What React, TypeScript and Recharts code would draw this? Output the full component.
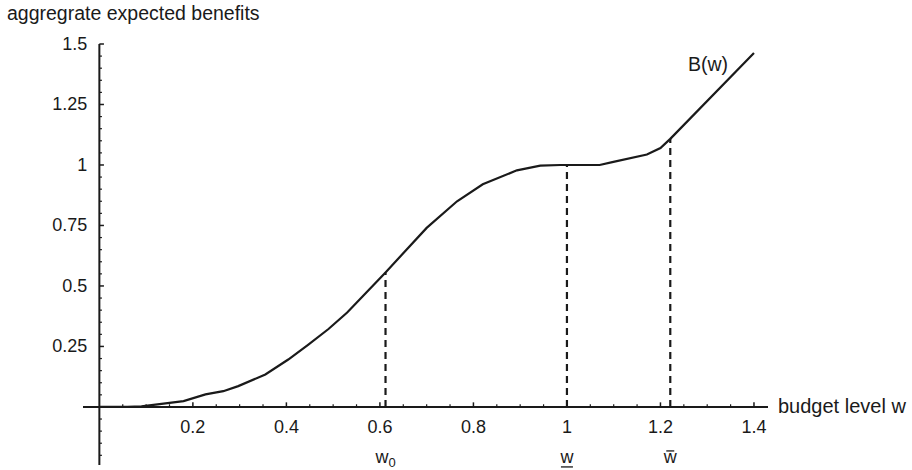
import React from 'react';
import { LineChart, Line, XAxis, YAxis, ReferenceLine, ReferenceDot } from 'recharts';

// budget level w and aggregate expected benefit B(w)
const BUDGET = [0, 0.06, 0.09, 0.18, 0.227, 0.265, 0.297, 0.355, 0.404, 0.447, 0.49, 0.53, 0.612, 0.7, 0.765, 0.82, 0.893, 0.943, 0.986, 1.0, 1.07, 1.097, 1.171, 1.2, 1.221, 1.4];
const BENEFIT = [0, 0, 0.002, 0.024, 0.052, 0.065, 0.086, 0.134, 0.196, 0.258, 0.322, 0.39, 0.556, 0.74, 0.85, 0.92, 0.978, 0.997, 1.0, 1.0, 1.0, 1.012, 1.043, 1.07, 1.108, 1.463];

// threshold budgets w0, w_, w¯ with the curve value at each
const MARK_W = [0.612, 1.0, 1.221];
const MARK_B = [0.556, 1.0, 1.108];

const X_TICKS = [0.2, 0.4, 0.6, 0.8, 1, 1.2, 1.4];
const X_TICK_LABELS = ['0.2', '0.4', '0.6', '0.8', '1', '1.2', '1.4'];
const Y_TICKS = [0.25, 0.5, 0.75, 1, 1.25, 1.5];
const Y_TICK_LABELS = ['0.25', '0.5', '0.75', '1', '1.25', '1.5'];

const X_DOMAIN: [number, number] = [-0.035, 1.43];
const Y_DOMAIN: [number, number] = [-0.24, 1.5];

const INK = '#1a1a1a';
const FONT = '"Liberation Sans", Arial, sans-serif';

const data = BUDGET.map((w, i) => ({ w, b: BENEFIT[i] }));

const isMajor = (v: number, majors: number[]) => majors.some((m) => Math.abs(m - v) < 1e-6);

const xMinor: number[] = [];
for (let k = 1; k * 0.05 <= 1.4 + 1e-9; k++) {
  const v = +(k * 0.05).toFixed(2);
  if (!isMajor(v, X_TICKS)) xMinor.push(v);
}
const yMinor: number[] = [];
for (let k = -4; k * 0.05 <= 1.45 + 1e-9; k++) {
  const v = +(k * 0.05).toFixed(2);
  if (v !== 0 && !isMajor(v, Y_TICKS)) yMinor.push(v);
}

const textStyle = { fontFamily: FONT, fill: INK };

export default function App() {
  return (
    <div style={{ position: 'relative', width: 912, height: 470 }}>
      <style>{'body{margin:0}'}</style>
      <div
        style={{
          position: 'absolute',
          left: 7,
          top: 2,
          fontFamily: FONT,
          fontSize: 19.5,
          color: INK,
          whiteSpace: 'nowrap',
        }}
      >
        aggregrate expected benefits
      </div>
      <LineChart width={912} height={470} data={data} margin={{ top: 44, right: 144, bottom: 5, left: 83 }}>
        <XAxis dataKey="w" type="number" domain={X_DOMAIN} hide allowDataOverflow />
        <YAxis type="number" domain={Y_DOMAIN} hide allowDataOverflow />

        {/* axes crossing at the origin */}
        <ReferenceLine
          segment={[{ x: X_DOMAIN[0], y: 0 }, { x: X_DOMAIN[1], y: 0 }]}
          stroke={INK}
          strokeWidth={2}
          ifOverflow="visible"
        />
        <ReferenceLine
          segment={[{ x: 0, y: Y_DOMAIN[0] }, { x: 0, y: Y_DOMAIN[1] }]}
          stroke={INK}
          strokeWidth={2}
          ifOverflow="visible"
        />

        {/* tick marks */}
        {X_TICKS.map((t) => (
          <ReferenceLine key={`xM${t}`} segment={[{ x: t, y: 0 }, { x: t, y: 0.019 }]} stroke={INK} strokeWidth={1.5} ifOverflow="visible" />
        ))}
        {xMinor.map((t) => (
          <ReferenceLine key={`xm${t}`} segment={[{ x: t, y: 0 }, { x: t, y: 0.011 }]} stroke={INK} strokeWidth={1.2} ifOverflow="visible" />
        ))}
        {Y_TICKS.map((t) => (
          <ReferenceLine key={`yM${t}`} segment={[{ x: 0, y: t }, { x: 0.0098, y: t }]} stroke={INK} strokeWidth={1.5} ifOverflow="visible" />
        ))}
        {yMinor.map((t) => (
          <ReferenceLine key={`ym${t}`} segment={[{ x: 0, y: t }, { x: 0.0055, y: t }]} stroke={INK} strokeWidth={1.2} ifOverflow="visible" />
        ))}

        {/* tick labels */}
        {X_TICKS.map((t, i) => (
          <ReferenceDot
            key={`xl${t}`}
            x={t}
            y={0}
            r={0}
            ifOverflow="visible"
            shape={(p: any) => (
              <text x={p.cx} y={p.cy + 26} textAnchor="middle" fontSize={18} {...textStyle}>
                {X_TICK_LABELS[i]}
              </text>
            )}
          />
        ))}
        {Y_TICKS.map((t, i) => (
          <ReferenceDot
            key={`yl${t}`}
            x={0}
            y={t}
            r={0}
            ifOverflow="visible"
            shape={(p: any) => (
              <text x={p.cx - 12} y={p.cy + 6} textAnchor="end" fontSize={18} {...textStyle}>
                {Y_TICK_LABELS[i]}
              </text>
            )}
          />
        ))}

        {/* x axis title */}
        <ReferenceDot
          x={X_DOMAIN[1]}
          y={0}
          r={0}
          ifOverflow="visible"
          shape={(p: any) => (
            <text x={p.cx + 10} y={p.cy + 6} fontSize={20} {...textStyle}>
              budget level w
            </text>
          )}
        />

        {/* dashed drops from the curve to the budget axis */}
        {MARK_W.map((w, i) => (
          <ReferenceLine
            key={`d${w}`}
            segment={[{ x: w, y: 0 }, { x: w, y: MARK_B[i] }]}
            stroke={INK}
            strokeWidth={2.2}
            strokeDasharray="7 5"
            ifOverflow="visible"
          />
        ))}

        {/* threshold names under the axis */}
        <ReferenceDot
          x={MARK_W[0]}
          y={0}
          r={0}
          ifOverflow="visible"
          shape={(p: any) => (
            <text x={p.cx - 10} y={p.cy + 56} fontSize={18} {...textStyle}>
              w<tspan fontSize={13} dy={4}>0</tspan>
            </text>
          )}
        />
        <ReferenceDot
          x={MARK_W[1]}
          y={0}
          r={0}
          ifOverflow="visible"
          shape={(p: any) => (
            <g>
              <text x={p.cx} y={p.cy + 56} textAnchor="middle" fontSize={18} {...textStyle}>
                w
              </text>
              <line x1={p.cx - 6} x2={p.cx + 6} y1={p.cy + 60} y2={p.cy + 60} stroke={INK} strokeWidth={1.3} />
            </g>
          )}
        />
        <ReferenceDot
          x={MARK_W[2]}
          y={0}
          r={0}
          ifOverflow="visible"
          shape={(p: any) => (
            <g>
              <text x={p.cx} y={p.cy + 56} textAnchor="middle" fontSize={18} {...textStyle}>
                w
              </text>
              <line x1={p.cx - 4} x2={p.cx + 4} y1={p.cy + 44} y2={p.cy + 44} stroke={INK} strokeWidth={1.3} />
            </g>
          )}
        />

        <Line
          type="linear"
          dataKey="b"
          stroke={INK}
          strokeWidth={2.2}
          dot={false}
          isAnimationActive={false}
        />

        {/* series name at the upper end of the curve */}
        <ReferenceDot
          x={BUDGET[BUDGET.length - 1]}
          y={BENEFIT[BENEFIT.length - 1]}
          r={0}
          ifOverflow="visible"
          shape={(p: any) => (
            <text x={p.cx - 26} y={p.cy + 18} textAnchor="end" fontSize={19.5} {...textStyle}>
              B(w)
            </text>
          )}
        />
      </LineChart>
    </div>
  );
}
